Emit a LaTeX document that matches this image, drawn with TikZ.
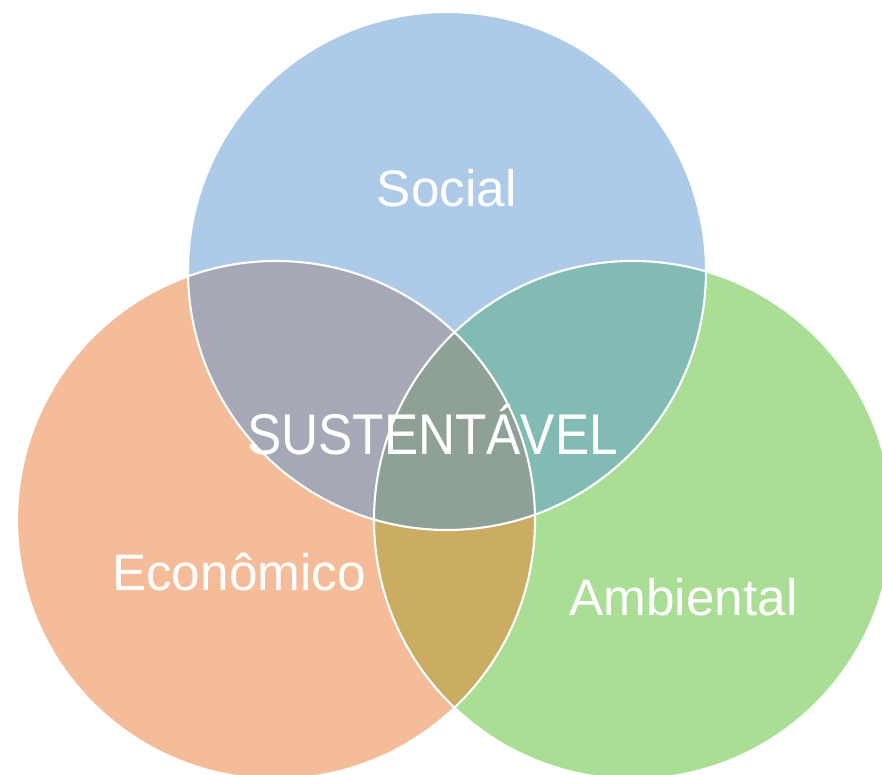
\documentclass[tikz,border=0pt]{standalone}
\usepackage{fontspec}
\setmainfont{Liberation Sans}
\definecolor{corSocial}{HTML}{ADCBE8}
\definecolor{corEcon}{HTML}{F4BC98}
\definecolor{corAmb}{HTML}{AADE94}
\definecolor{corSocEcon}{HTML}{A6A9B5}
\definecolor{corSocAmb}{HTML}{82BBB3}
\definecolor{corEconAmb}{HTML}{CAAD62}
\definecolor{corCentro}{HTML}{8FA197}

\begin{document}
\begin{tikzpicture}[texto/.style={text=white,inner sep=0pt,anchor=base,font=\fontsize{14.6pt}{17pt}\selectfont},
                    contorno/.style={draw=white,line width=0.6pt}]
      \useasboundingbox (0,0) rectangle (8.82,-7.75);
      \coordinate (s) at (4.47,-2.71);
      \coordinate (e) at (2.76,-5.20);
      \coordinate (a) at (6.33,-5.20);
      % circulos
      \fill[corSocial] (s) circle (2.59);
      \fill[corEcon] (e) circle (2.59);
      \fill[corAmb] (a) circle (2.59);
      % intersecoes
      \begin{scope} \clip (s) circle (2.59); \fill[corSocEcon] (e) circle (2.59); \end{scope}
      \begin{scope} \clip (s) circle (2.59); \fill[corSocAmb] (a) circle (2.59); \end{scope}
      \begin{scope} \clip (e) circle (2.59); \fill[corEconAmb] (a) circle (2.59); \end{scope}
      \begin{scope} \clip (s) circle (2.59); \clip (e) circle (2.59); \fill[corCentro] (a) circle (2.59); \end{scope}
      \foreach \c in {s,e,a} \path[contorno] (\c) circle (2.59);
      % rotulos
      \node[texto] (social) at (4.467,-2.07) {Social};
      \node[texto] (econ) at (2.39,-5.91) {Econômico};
      \node[texto] (amb) at (6.835,-6.16) {Ambiental};
      \node[texto] (sust) at (4.325,-4.55) {\scalebox{1}[1.12]{SUSTENTÁVEL}};
    \end{tikzpicture}
\end{document}
